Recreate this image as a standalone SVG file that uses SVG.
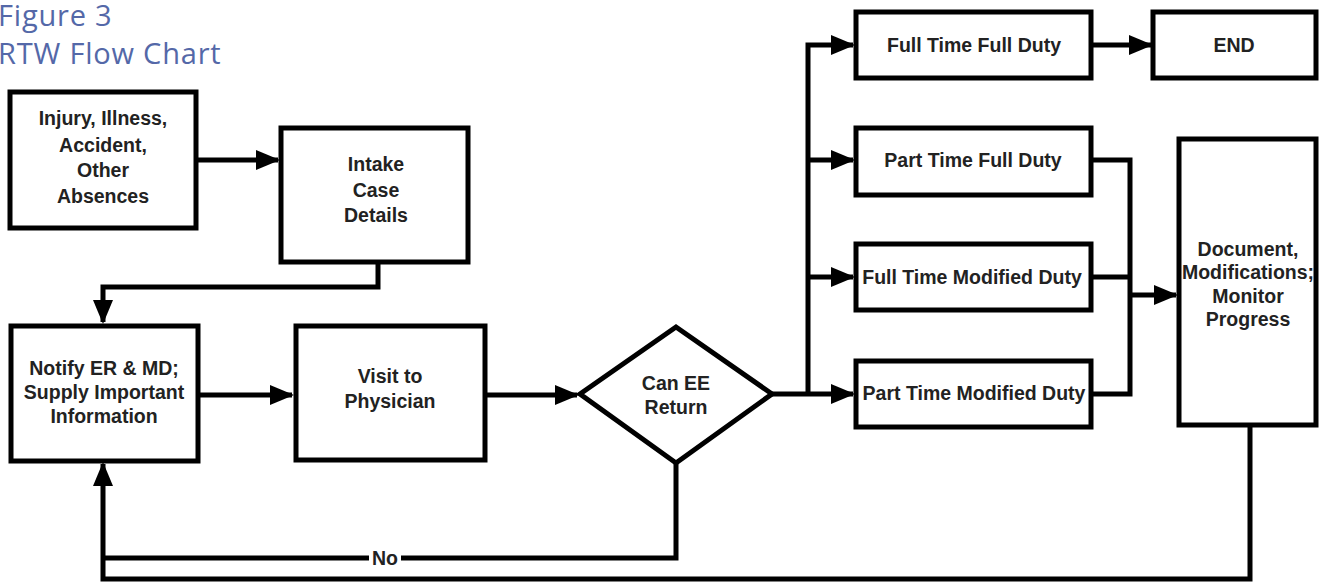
<svg xmlns="http://www.w3.org/2000/svg" width="1320" height="585" viewBox="0 0 1320 585">
<defs>
<marker id="ah" markerUnits="userSpaceOnUse" markerWidth="24" markerHeight="20" refX="22" refY="10" orient="auto">
<path d="M0,0 L24,10 L0,20 Z" fill="#000"/>
</marker>
<style>
.box{fill:#fff;stroke:#000;stroke-width:5}
.ln{fill:none;stroke:#000;stroke-width:5}
.t{font-family:"Liberation Sans",Arial,sans-serif;font-weight:bold;font-size:19.5px;fill:#222;text-anchor:middle}
.title{font-family:"Open Sans",sans-serif;font-size:29px;letter-spacing:0.8px;fill:#5468a8}
</style>
</defs>
<rect width="1320" height="585" fill="#fff"/>
<text class="title" x="-2" y="26">Figure 3</text>
<text class="title" x="-2" y="64">RTW Flow Chart</text>

<g id="connectors">
<path class="ln" d="M198,160 H278" marker-end="url(#ah)"/>
<path class="ln" d="M378,262 V287 H103 V322" marker-end="url(#ah)"/>
<path class="ln" d="M198,395 H292" marker-end="url(#ah)"/>
<path class="ln" d="M485,395 H577" marker-end="url(#ah)"/>
<path class="ln" d="M772,394 H808"/>
<path class="ln" d="M808,394 H853" marker-end="url(#ah)"/>
<path class="ln" d="M808,394 V45 H853" marker-end="url(#ah)"/>
<path class="ln" d="M808,160 H853" marker-end="url(#ah)"/>
<path class="ln" d="M808,277 H853" marker-end="url(#ah)"/>
<path class="ln" d="M1093,45 H1151" marker-end="url(#ah)"/>
<path class="ln" d="M1093,160 H1130 V394 H1093"/>
<path class="ln" d="M1093,277 H1130"/>
<path class="ln" d="M1130,295 H1176" marker-end="url(#ah)"/>
<path class="ln" d="M676,463 V558 H401"/>
<path class="ln" d="M369,558 H103"/>
<path class="ln" d="M1250,425 V579 H103 V464" marker-end="url(#ah)"/>
<text class="t" x="385" y="565">No</text>
</g>

<g id="n-injury">
<rect class="box" x="10" y="92" width="186" height="136"/>
<text class="t" x="103" y="125">Injury, Illness,</text>
<text class="t" x="103" y="152">Accident,</text>
<text class="t" x="103" y="177">Other</text>
<text class="t" x="103" y="203">Absences</text>
</g>
<g id="n-intake">
<rect class="box" x="281" y="128" width="187" height="134"/>
<text class="t" x="376" y="171">Intake</text>
<text class="t" x="376" y="197">Case</text>
<text class="t" x="376" y="222">Details</text>
</g>
<g id="n-notify">
<rect class="box" x="11" y="326" width="187" height="135"/>
<text class="t" x="104" y="375">Notify ER &amp; MD;</text>
<text class="t" x="104" y="399">Supply Important</text>
<text class="t" x="104" y="423">Information</text>
</g>
<g id="n-visit">
<rect class="box" x="296" y="326" width="189" height="134"/>
<text class="t" x="390" y="383">Visit to</text>
<text class="t" x="390" y="408">Physician</text>
</g>
<g id="n-decision">
<polygon class="box" points="676,327 772,394 676,463 580,394"/>
<text class="t" x="676" y="390">Can EE</text>
<text class="t" x="676" y="414">Return</text>
</g>
<g id="n-ftfd">
<rect class="box" x="856" y="12" width="235" height="66"/>
<text class="t" x="974" y="52">Full Time Full Duty</text>
</g>
<g id="n-end">
<rect class="box" x="1153" y="12" width="163" height="66"/>
<text class="t" x="1234" y="52">END</text>
</g>
<g id="n-ptfd">
<rect class="box" x="856" y="128" width="235" height="67"/>
<text class="t" x="973" y="167">Part Time Full Duty</text>
</g>
<g id="n-ftmd">
<rect class="box" x="856" y="244" width="235" height="66"/>
<text class="t" x="972" y="284">Full Time Modified Duty</text>
</g>
<g id="n-ptmd">
<rect class="box" x="856" y="361" width="235" height="66"/>
<text class="t" x="974" y="400">Part Time Modified Duty</text>
</g>
<g id="n-document">
<rect class="box" x="1179" y="139" width="137" height="286"/>
<text class="t" x="1248" y="256">Document,</text>
<text class="t" x="1248" y="279">Modifications;</text>
<text class="t" x="1248" y="303">Monitor</text>
<text class="t" x="1248" y="326">Progress</text>
</g>
</svg>
